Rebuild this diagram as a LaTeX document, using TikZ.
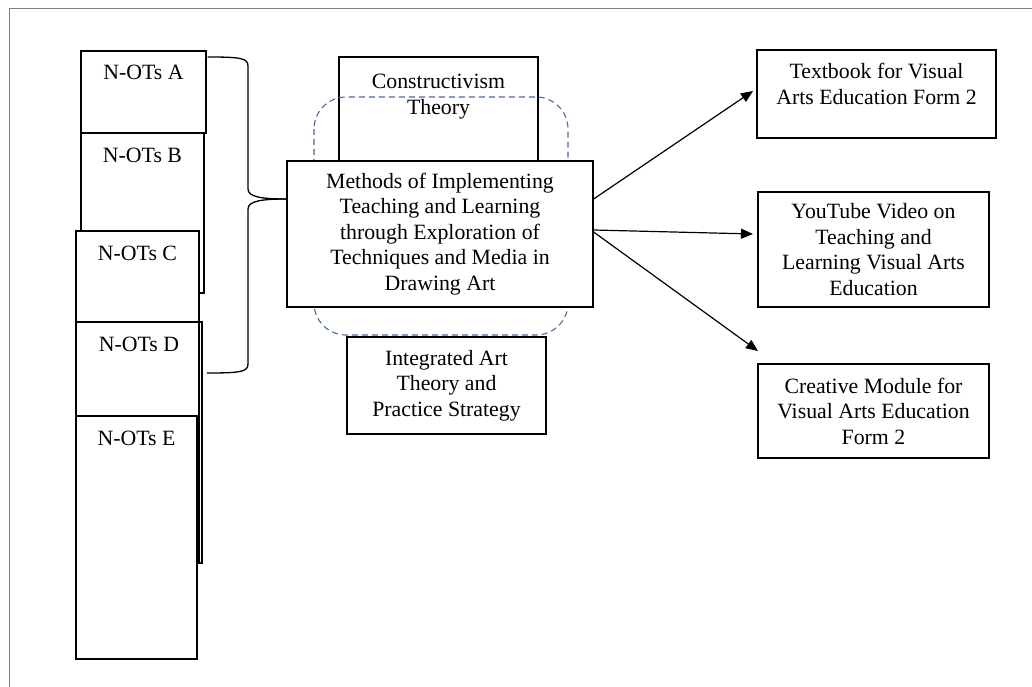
\documentclass[tikz,border=0pt]{standalone}
\usepackage{fontspec}
\setmainfont{Liberation Serif}
\usetikzlibrary{arrows.meta}
\definecolor{dashblue}{RGB}{74,106,150}
\definecolor{framegray}{RGB}{128,128,128}
\tikzset{
  box/.style={draw=black, line width=1.2pt, fill=white, inner sep=0pt},
  openbox/.style={draw=black, line width=1.2pt, inner sep=0pt},
  txt/.style={font=\fontsize{21.8}{25.5}\selectfont, align=center, inner sep=0pt},
  conn/.style={draw=black, line width=1.2pt, -{Triangle[length=12pt,width=10pt]}},
  brace/.style={draw=black, line width=1.3pt},
  dashedframe/.style={draw=dashblue, line width=1.1pt, dash pattern=on 6pt off 4pt, rounded corners=32pt}
}
\begin{document}
\begin{tikzpicture}[x=1pt,y=-1pt]
\useasboundingbox (0,0) rectangle (1032,687);
% outer frame (top and left sides)
\draw[framegray, line width=1pt] (9,687) -- (9,9) -- (1032,9);

% left stack of boxes
\node[box, minimum width=125pt, minimum height=82pt] (A) at (143.5,92) {};
\node[txt, anchor=base] (At) at ([yshift=-29pt]A.north) {N-OTs A};
\node[box, minimum width=123pt, minimum height=160pt] (B) at (142.5,213) {};
\node[txt, anchor=base] (Bt) at ([yshift=-30pt]B.north) {N-OTs B};
\node[box, minimum width=123pt, minimum height=332pt] (C) at (137.5,397) {};
\node[txt, anchor=base] (Ct) at ([yshift=-30pt]C.north) {N-OTs C};
\node[openbox, minimum width=126pt, minimum height=241pt] (D) at (139,442.5) {};
\node[txt, anchor=base] (Dt) at ([yshift=-30pt]D.north) {N-OTs D};
\node[box, minimum width=121pt, minimum height=243pt] (E) at (136.5,537.5) {};
\node[txt, anchor=base] (Et) at ([yshift=-30pt]E.north) {N-OTs E};

% Constructivism theory box
\node[box, minimum width=199pt, minimum height=104pt] (CT) at (438.5,109) {};
\node[txt, anchor=base] (CTt) at ([yshift=-58pt]CT.north) {Constructivism\\Theory};

% dashed rounded frame
\draw[dashedframe] (314,97) rectangle (568,335);

% main box
\node[box, txt, minimum width=306pt, minimum height=146pt] (M) at (440,234)
  {Methods of Implementing\\Teaching and Learning\\through Exploration of\\Techniques and Media in\\Drawing Art};

% integrated box
\node[box, txt, minimum width=199pt, minimum height=97pt] (I) at (446.5,385.5)
  {Integrated Art\\Theory and\\Practice Strategy};

% right boxes
\node[box, minimum width=239pt, minimum height=88pt] (T) at (876.5,94) {};
\node[txt, anchor=base] (Tt) at ([yshift=-55pt]T.north) {Textbook for Visual\\Arts Education Form 2};
\node[box, txt, minimum width=231pt, minimum height=115pt] (Y) at (873.5,249.5)
  {YouTube Video on\\Teaching and\\Learning Visual Arts\\Education};
\node[box, txt, minimum width=231pt, minimum height=94pt] (CM) at (873.5,411)
  {Creative Module for\\Visual Arts Education\\Form 2};

% brace
\coordinate (btop) at ([xshift=1pt,yshift=35pt]A.east);
\coordinate (btip) at ([yshift=35pt]M.west);
\coordinate (bbot) at (207,373);
\draw[brace] (btop) .. controls (240,57) and (248,58) .. (248,66)
  -- (248,189) .. controls (248,197) and (262,199) .. (btip);
\draw[brace] (btip) .. controls (262,199) and (248,201) .. (248,209)
  -- (248,364) .. controls (248,372) and (240,373) .. (bbot);

% arrows
\coordinate (a1s) at ([yshift=35pt]M.east);
\coordinate (a2s) at ([yshift=4pt]M.east);
\coordinate (a3s) at ([yshift=2pt]M.east);
\coordinate (a1e) at (753,91);
\coordinate (a2e) at (753,234);
\coordinate (a3e) at (758,351);
\draw[conn] (a1s) -- (a1e);
\draw[conn] (a2s) -- (a2e);
\draw[conn] (a3s) -- (a3e);
\end{tikzpicture}
\end{document}
